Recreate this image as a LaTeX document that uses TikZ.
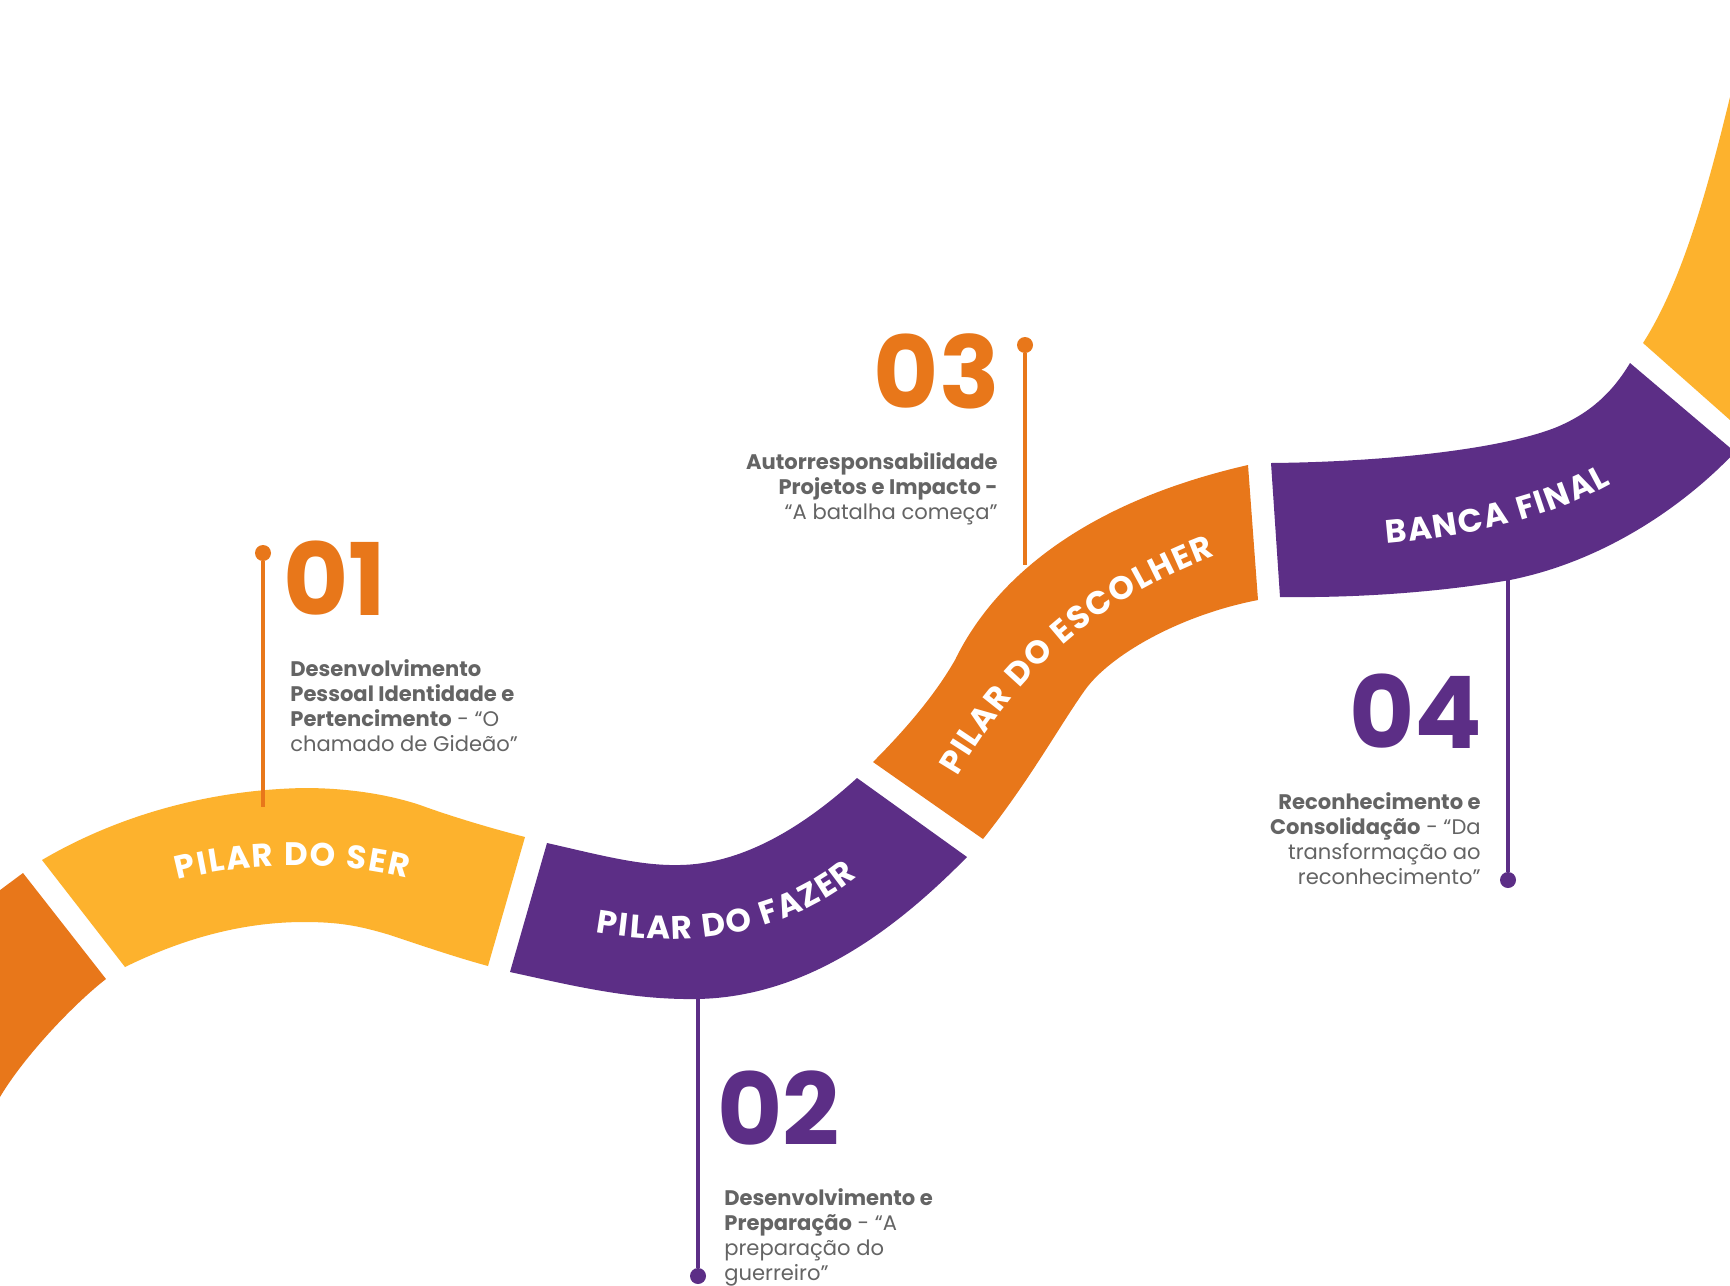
\documentclass[tikz,border=0pt]{standalone}
\usepackage{fontspec}
\setmainfont{Poppins}
\usepackage{tikz}
\usetikzlibrary{decorations.text}
\definecolor{pOrange}{HTML}{E8771A}
\definecolor{pYellow}{HTML}{FDB22D}
\definecolor{pPurple}{HTML}{5C2E86}
\definecolor{pGrey}{HTML}{646464}
\newcommand\bandtype{\fontsize{18.5}{18.5}\selectfont\bfseries}

\begin{document}
\begin{tikzpicture}[x=0.02cm,y=-0.02cm,
  num/.style={inner sep=0pt,font=\fontsize{57}{57}\selectfont\bfseries},
  info/.style={inner sep=0pt,text=pGrey,font=\fontsize{12}{14.2}\selectfont},
  dot/.style={circle,fill=#1,inner sep=0pt,minimum size=0.32cm},
  stem/.style={draw=#1,line width=2.3pt},
  band/.style={font=\bandtype,decorate,decoration={text effects along path,text={#1},text align=center,
    text effects/.cd,text along path,
    characters={text=white,font=\bandtype,inner xsep=0.5pt,inner ysep=0pt},
    character widths={font=\bandtype,inner xsep=0.5pt}}}]
  \fill[white] (0,0) rectangle (1730,1285);
  \useasboundingbox (0,0) rectangle (1730,1285);

  \begin{scope}
    \clip (0,0) rectangle (1730,1285);
    \fill[pOrange] (-20,905) -- (23,873) -- (106,979) .. controls (75,1003) and (25,1055) .. (0,1097) -- (-20,1130) -- cycle;
    \fill[pYellow] (42,860) .. controls (110,820) and (200,790) .. (304,788) .. controls (350,788) and (390,795) .. (420,805) .. controls (450,816) and (490,828) .. (525,837)
      -- (488,966) .. controls (455,957) and (420,945) .. (390,935) .. controls (360,926) and (340,922) .. (304,922) .. controls (240,922) and (180,940) .. (125,967) -- cycle;
    \fill[pPurple] (547,843) .. controls (600,855) and (640,866) .. (680,865) .. controls (740,864) and (800,830) .. (857,778)
      -- (967,857) .. controls (900,925) and (810,997) .. (697,999) .. controls (630,1000) and (570,985) .. (510,972) -- cycle;
    \fill[pOrange] (873,762) .. controls (905,730) and (935,695) .. (955,660) .. controls (985,598) and (1060,508) .. (1248,465)
      -- (1258,600) .. controls (1180,615) and (1110,655) .. (1085,690) .. controls (1060,725) and (1030,780) .. (983,839) -- cycle;
    \fill[pPurple] (1271,463) .. controls (1380,462) and (1500,450) .. (1557,427) .. controls (1590,413) and (1612,393) .. (1630,363)
      -- (1735,452) .. controls (1690,500) and (1610,560) .. (1510,580) .. controls (1440,592) and (1360,598) .. (1280,597) -- cycle;
    \fill[pYellow] (1730,97) .. controls (1705,200) and (1680,285) .. (1643,343) -- (1730,420) -- cycle;
  \end{scope}

  \path[band={PILAR DO SER}] (140,892) .. controls (230,858) and (350,856) .. (445,890);
  \path[band={PILAR DO FAZER}] (552,922) .. controls (645,950) and (795,955) .. (890,845);
  \path[band={PILAR DO ESCOLHER}] (937,812) .. controls (999,700) and (1071,600) .. (1254,542);
  \path[band={BANCA FINAL}] (1348,546) .. controls (1448,542) and (1568,520) .. (1643,463);

  \node[dot=pOrange] (d1) at (263,553) {};
  \coordinate (b1) at (263,807);
  \draw[stem=pOrange] (d1) -- (b1);
  \coordinate (b2) at (698,995);
  \node[dot=pPurple] (d2) at (698,1276) {};
  \draw[stem=pPurple] (b2) -- (d2);
  \node[dot=pOrange] (d3) at (1025,345) {};
  \coordinate (b3) at (1025,565);
  \draw[stem=pOrange] (d3) -- (b3);
  \coordinate (b4) at (1508,575);
  \node[dot=pPurple] (d4) at (1508,880) {};
  \draw[stem=pPurple] (b4) -- (d4);

  \node[num,text=pOrange,anchor=base west] (n1) at (283,615) {01};
  \node[num,text=pPurple,anchor=base west] (n2) at (717,1145) {02};
  \node[num,text=pOrange,anchor=base east] (n3) at (1000,408) {03};
  \node[num,text=pPurple,anchor=base east] (n4) at (1483,748) {04};

  \node[info,anchor=north west,align=left] (t1) at (290,659)
    {\textbf{Desenvolvimento}\\\textbf{Pessoal Identidade e}\\\textbf{Pertencimento} - “O\\chamado de Gideão”};
  \node[info,anchor=north west,align=left] (t2) at (724,1188)
    {\textbf{Desenvolvimento e}\\\textbf{Preparação} - “A\\preparação do\\guerreiro”};
  \node[info,anchor=north east,align=right] (t3) at (998,452)
    {\textbf{Autorresponsabilidade}\\\textbf{Projetos e Impacto -}\\“A batalha começa”};
  \node[info,anchor=north east,align=right] (t4) at (1481,792)
    {\textbf{Reconhecimento e}\\\textbf{Consolidação} - “Da\\transformação ao\\reconhecimento”};
\end{tikzpicture}
\end{document}
